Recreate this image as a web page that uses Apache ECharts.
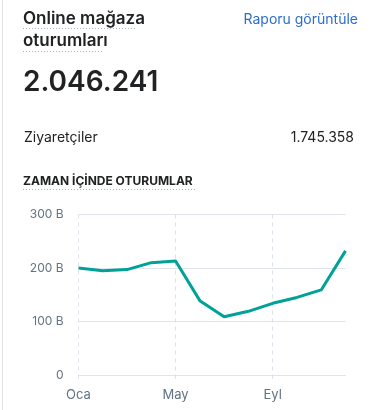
<!DOCTYPE html>
<html>
<head>
<meta charset="utf-8">
<script src="https://cdn.jsdelivr.net/npm/echarts@6/dist/echarts.min.js"></script>
<style>
  html, body { margin: 0; padding: 0; background: #fff; }
  body { width: 372px; height: 410px; position: relative; overflow: hidden; font-family: Inter, "Noto Sans", sans-serif; color: #202223; }
  .t { position: absolute; white-space: nowrap; }
  .dots { position: absolute; height: 1px; background-image: linear-gradient(to right, #a9b3c4 50%, transparent 0); background-size: 3px 1px; background-repeat: repeat-x; }
  #border { position: absolute; left: 2px; top: 0; width: 1px; height: 410px; background: #e1e3e5; }
  #chart { position: absolute; left: 0; top: 0; width: 372px; height: 410px; }
</style>
</head>
<body>
<div id="border"></div>
<div id="chart"></div>
<div class="t" style="left:23px; top:7.5px; font-size:17px; line-height:20.6px; font-weight:600;">Online mağaza</div>
<div class="dots" style="left:23px; top:28px; width:114px;"></div>
<div class="t" style="left:23px; top:30px; font-size:17px; line-height:20.6px; font-weight:600;">oturumları</div>
<div class="dots" style="left:23px; top:51px; width:79px;"></div>
<div class="t" style="left:23px; top:64.6px; font-size:28px; line-height:33.9px; font-weight:600;">2.046.241</div>
<div class="t" style="right:14px; top:11.4px; font-size:14px; line-height:16.9px; color:#2c6ecb;">Raporu görüntüle</div>
<div class="t" style="left:24px; top:128.7px; font-size:14px; line-height:16.9px;">Ziyaretçiler</div>
<div class="t" style="right:18px; top:128.7px; font-size:14px; line-height:16.9px;">1.745.358</div>
<div class="t" style="left:23px; top:174.4px; font-size:12px; line-height:14.5px; font-weight:700;">ZAMAN İÇİNDE OTURUMLAR</div>
<div class="dots" style="left:23px; top:189px; width:173px;"></div>
<script>
const months = ['Oca','Şub','Mar','Nis','May','Haz','Tem','Ağu','Eyl','Eki','Kas','Ara'];
const sessions = [200, 195, 197, 210, 213, 139, 109, 119, 134, 145, 159, 232];
const yTicks = [0, 100, 200, 300];
const yTickLabels = ['0', '100 B', '200 B', '300 B'];

const chart = echarts.init(document.getElementById('chart'), null, { renderer: 'canvas' });
chart.setOption({
  animation: false,
  grid: { left: 78.5, top: 214.5, width: 267, height: 160.5 },
  xAxis: {
    type: 'category',
    data: months,
    boundaryGap: false,
    axisLine: { show: true, lineStyle: { color: '#e1e4ea', width: 1 } },
    axisTick: { show: true, interval: 3, length: 4, lineStyle: { color: '#dde2ea' } },
    axisLabel: { interval: 3, margin: 14, color: '#637381', fontSize: 13, fontFamily: 'Inter' },
    splitLine: { show: true, interval: 3, lineStyle: { color: '#dde2ea', type: [4, 4], width: 1 } }
  },
  yAxis: {
    type: 'value',
    min: yTicks[0],
    max: yTicks[yTicks.length - 1],
    interval: 100,
    axisLine: { show: false },
    axisTick: { show: false },
    axisLabel: {
      margin: 15, color: '#637381', fontSize: 12, fontFamily: 'Inter',
      formatter: v => yTickLabels[yTicks.indexOf(v)]
    },
    splitLine: { show: true, lineStyle: { color: '#e1e4ea', width: 1 } }
  },
  series: [{
    type: 'line',
    data: sessions,
    showSymbol: false,
    symbol: 'none',
    lineStyle: { color: '#00a197', width: 3, join: 'round' },
    itemStyle: { color: '#00a197' }
  }]
});
</script>
</body>
</html>
